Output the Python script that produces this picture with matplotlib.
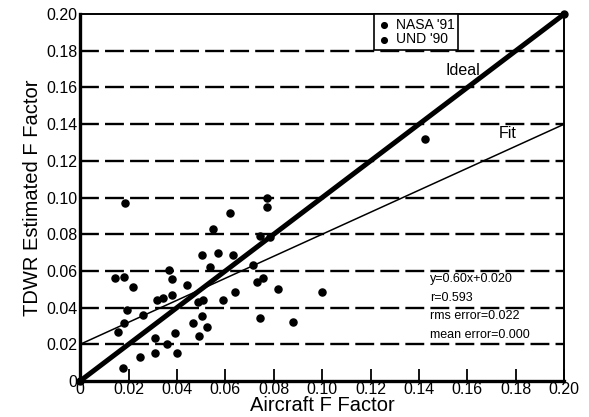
import matplotlib.pyplot as plt

plt.rcParams['font.family'] = ['Liberation Sans', 'DejaVu Sans']

# aircraft vs TDWR F factor
nasa_x = [0.0186, 0.0145, 0.0182, 0.0219, 0.0194, 0.0182, 0.0157, 0.0178, 0.0248,
          0.0310, 0.0400, 0.0310, 0.0360, 0.0260, 0.0318, 0.0343, 0.0380, 0.0380,
          0.0368, 0.0442, 0.0393, 0.0467, 0.0525, 0.0504]
nasa_y = [0.0970, 0.0561, 0.0567, 0.0512, 0.0387, 0.0316, 0.0267, 0.0071, 0.0131,
          0.0153, 0.0153, 0.0234, 0.0202, 0.0360, 0.0441, 0.0452, 0.0469, 0.0556,
          0.0605, 0.0523, 0.0262, 0.0316, 0.0294, 0.0354]
und_x = [0.0492, 0.0508, 0.0488, 0.0504, 0.0570, 0.0620, 0.0550, 0.0632, 0.0640,
         0.0590, 0.0537, 0.0715, 0.0731, 0.0756, 0.0744, 0.0773, 0.0773, 0.0785,
         0.0744, 0.0818, 0.0880, 0.1000, 0.1426]
und_y = [0.0245, 0.0441, 0.0430, 0.0687, 0.0698, 0.0916, 0.0828, 0.0687, 0.0485,
         0.0441, 0.0621, 0.0632, 0.0540, 0.0561, 0.0343, 0.0997, 0.0948, 0.0785,
         0.0790, 0.0501, 0.0322, 0.0485, 0.1319]

fit_slope, fit_icpt = 0.60, 0.020
line_x = [0.0, 0.20]
stats = ['y=0.60x+0.020', 'r=0.593', 'rms error=0.022', 'mean error=0.000']
ticks = [0.0, 0.02, 0.04, 0.06, 0.08, 0.10, 0.12, 0.14, 0.16, 0.18, 0.20]
tick_labels = ['0', '0.02', '0.04', '0.06', '0.08', '0.10', '0.12', '0.14', '0.16', '0.18', '0.20']

fig = plt.figure(figsize=(5.89, 4.17), dpi=100)
ax = fig.add_axes([0.136, 0.0863, 0.822, 0.88])
ax.set_xlim(0, 0.2)
ax.set_ylim(0, 0.2)

# dashed horizontal grid
for t in ticks[1:-1]:
    ax.axhline(t, color='black', lw=1.7, dashes=(8, 2.6), zorder=1)

# ideal and fitted lines
ax.plot(line_x, line_x, color='black', lw=3.6, solid_capstyle='round', zorder=3)
ax.plot(line_x, line_x, 'o', color='black', ms=5, clip_on=False, zorder=4)
ax.plot(line_x, [fit_slope * v + fit_icpt for v in line_x], color='black', lw=1.1, zorder=3)

ax.scatter(nasa_x, nasa_y, s=26, marker='o', color='black', zorder=5, label="NASA '91")
ax.scatter(und_x, und_y, s=26, marker='o', color='black', zorder=5, label="UND '90")

ax.text(0.151, 0.169, 'Ideal', fontsize=11.5, ha='left', va='center')
ax.text(0.173, 0.135, 'Fit', fontsize=11.5, ha='left', va='center')
for i, s in enumerate(stats):
    ax.text(0.1445, 0.0556 - i * 0.0102, s, fontsize=9, ha='left', va='center')

ax.set_xticks(ticks)
ax.set_xticklabels(tick_labels)
ax.set_yticks(ticks)
ax.set_yticklabels(tick_labels)
ax.tick_params(axis='x', direction='in', length=9, width=1.3, labelsize=11.5, pad=1)
ax.tick_params(axis='y', direction='in', length=0, labelsize=11.5, pad=2)
for side in ['left', 'bottom']:
    ax.spines[side].set_linewidth(2.4)
for side in ['top', 'right']:
    ax.spines[side].set_linewidth(1.4)

ax.set_xlabel('Aircraft F Factor', fontsize=14.5, labelpad=-1)
ax.set_ylabel('TDWR Estimated F Factor', fontsize=14.5, labelpad=3)

leg = ax.legend(loc='upper center', bbox_to_anchor=(0.694, 1.0), borderaxespad=0,
                fancybox=False, edgecolor='black', framealpha=1, fontsize=10,
                handletextpad=0.4, borderpad=0.25, labelspacing=0.05,
                handlelength=0.9, markerscale=0.8)
leg.get_frame().set_linewidth(1.2)

fig.savefig('out.png', dpi=100, facecolor='white')
